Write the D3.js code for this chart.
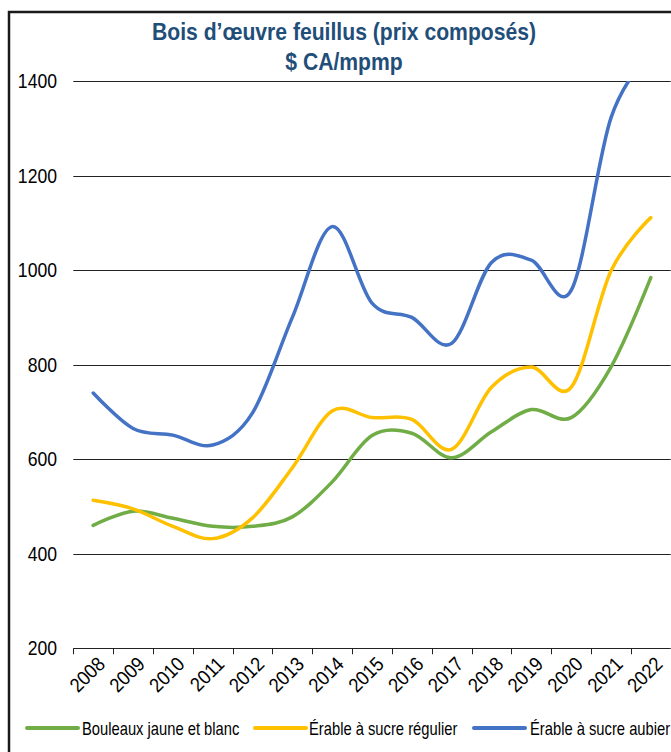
<!DOCTYPE html>
<html><head><meta charset="utf-8">
<script src="https://cdn.jsdelivr.net/npm/d3@7"></script>
<style>
body{margin:0;background:#fff}
svg{display:block}
text{font-family:"Liberation Sans Narrow","Arial Narrow","Liberation Sans",Arial,sans-serif}
</style>
</head><body>
<svg id="chart" width="671" height="752"></svg>
<script>
const years = ["2008","2009","2010","2011","2012","2013","2014","2015","2016","2017","2018","2019","2020","2021","2022"];
const bouleaux = [460, 490, 475, 458, 458, 478, 552, 650, 655, 603, 658, 705, 688, 795, 984];
const erableRegulier = [513, 495, 458, 432, 476, 582, 702, 688, 684, 621, 752, 795, 752, 998, 1111];
const erableAubier = [740, 665, 651, 630, 698, 900, 1092, 930, 900, 845, 1016, 1021, 957, 1322, 1460];
const yTicks = [200, 400, 600, 800, 1000, 1200, 1400];
const seriesNames = ["Bouleaux jaune et blanc", "Érable à sucre régulier", "Érable à sucre aubier"];
const seriesColors = ["#70AD47", "#FFC000", "#4472C4"];
const titleLines = ["Bois d\u2019œuvre feuillus (prix composés)", "$ CA/mpmp"];

const svg = d3.select("#chart");
const plot = {left: 73.3, right: 670.7, top: 81, bottom: 648.3};

const xBand = d3.scaleBand().domain(years).range([plot.left, plot.right]).paddingInner(0).paddingOuter(0);
const x = d3.scalePoint().domain(years).range([plot.left, plot.right]).padding(0.5);
const y = d3.scaleLinear().domain([200, 1400]).range([plot.bottom, plot.top]);

// border
svg.append("rect").attr("x", 9).attr("y", 12).attr("width", 700).attr("height", 800)
  .attr("fill", "none").attr("stroke", "#1a1a1a").attr("stroke-width", 2.5);

// title
titleLines.forEach((t, i) => {
  svg.append("text").attr("transform", `translate(344,${i === 0 ? 40 : 70}) scale(0.9,1)`)
    .attr("text-anchor", "middle").attr("fill", "#1F4E79")
    .attr("font-weight", "bold").attr("font-size", 23.5).text(t);
});

// gridlines
svg.append("g").selectAll("line").data(yTicks).join("line")
  .attr("x1", plot.left).attr("x2", plot.right)
  .attr("y1", d => Math.round(y(d)) + 0.5).attr("y2", d => Math.round(y(d)) + 0.5)
  .attr("stroke", "#222").attr("stroke-width", 1.2);

// y labels
svg.append("g").selectAll("text").data(yTicks).join("text")
  .attr("transform", d => `translate(57,${y(d) + 7}) scale(0.88,1)`)
  .attr("text-anchor", "end").attr("font-size", 20).attr("fill", "#000").text(d => d);

// x ticks
const tickPos = years.map(d => xBand(d)).concat([plot.right]);
svg.append("g").selectAll("line").data(tickPos).join("line")
  .attr("x1", d => Math.round(d) + 0.5).attr("x2", d => Math.round(d) + 0.5)
  .attr("y1", y(200)).attr("y2", y(200) + 6)
  .attr("stroke", "#222").attr("stroke-width", 1);

// x labels
svg.append("g").selectAll("text").data(years).join("text")
  .attr("transform", d => `translate(${x(d) + 13},${plot.bottom + 17}) rotate(-45) scale(0.9,1)`)
  .attr("text-anchor", "end").attr("font-size", 20).attr("fill", "#000").text(d => d);

// clip
svg.append("clipPath").attr("id", "clip").append("rect")
  .attr("x", 0).attr("y", plot.top).attr("width", 671).attr("height", plot.bottom - plot.top + 10);

const line = d3.line().x((d, i) => x(years[i])).y(d => y(d)).curve(d3.curveCatmullRom.alpha(0));
const seriesData = [bouleaux, erableRegulier, erableAubier];
const lg = svg.append("g").attr("clip-path", "url(#clip)");
seriesData.forEach((s, i) => {
  lg.append("path").attr("d", line(s)).attr("fill", "none")
    .attr("stroke", seriesColors[i]).attr("stroke-width", 3.5).attr("stroke-linecap", "round").attr("stroke-linejoin", "round");
});

// legend
const legendX = [27, 255, 474];
const textX = [82, 309, 530];
const leg = svg.append("g");
seriesNames.forEach((n, i) => {
  leg.append("line").attr("x1", legendX[i]).attr("x2", legendX[i] + 51)
    .attr("y1", 728).attr("y2", 728).attr("stroke", seriesColors[i]).attr("stroke-width", 4).attr("stroke-linecap", "round");
  leg.append("text").attr("transform", `translate(${textX[i]},735) scale(0.82,1)`)
    .attr("font-size", 18).attr("fill", "#000").text(n);
});
</script>
</body></html>
